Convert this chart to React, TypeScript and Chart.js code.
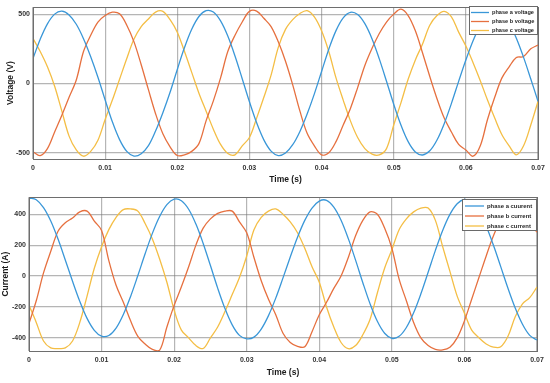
import React, { useEffect, useRef } from "react";
import { Chart, registerables } from "chart.js";

Chart.register(...registerables);

// ---------- data ----------
const TIME = [
  0, 0.001, 0.002, 0.003, 0.004, 0.005, 0.006, 0.007, 0.008, 0.009,
  0.01, 0.011, 0.012, 0.013, 0.014, 0.015, 0.016, 0.017, 0.018, 0.019,
  0.02, 0.021, 0.022, 0.023, 0.024, 0.025, 0.026, 0.027, 0.028, 0.029,
  0.03, 0.031, 0.032, 0.033, 0.034, 0.035, 0.036, 0.037, 0.038, 0.039,
  0.04, 0.041, 0.042, 0.043, 0.044, 0.045, 0.046, 0.047, 0.048, 0.049,
  0.05, 0.051, 0.052, 0.053, 0.054, 0.055, 0.056, 0.057, 0.058, 0.059,
  0.06, 0.061, 0.062, 0.063, 0.064, 0.065, 0.066, 0.067, 0.068, 0.069,
  0.07,
];

const X_TICKS = [0, 0.01, 0.02, 0.03, 0.04, 0.05, 0.06, 0.07];
const X_TICK_LABELS = ["0", "0.01", "0.02", "0.03", "0.04", "0.05", "0.06", "0.07"];
const V_TICKS = [-500, 0, 500];
const I_TICKS = [-400, -200, 0, 200, 400];

const VOLT_A = [
  180, 319, 430, 500, 521, 494, 427, 323, 193, 45,
  -119, -277, -405, -490, -524, -507, -449, -342, -211, -64,
  101, 259, 391, 483, 525, 515, 451, 342, 198, 34,
  -132, -284, -407, -488, -520, -502, -442, -346, -220, -75,
  86, 247, 381, 473, 513, 497, 431, 321, 177, 16,
  -150, -300, -420, -494, -516, -486, -408, -290, -144, 15,
  169, 308, 419, 492, 520, 500, 434, 326, 188, 32,
  -129,
];
const VOLT_B = [
  -493, -520, -470, -350, -230, -100, 25, 230, 348, 443,
  490, 514, 502, 420, 300, 135, -45, -220, -363, -457,
  -520, -515, -490, -434, -268, -126, 40, 230, 348, 443,
  520, 522, 470, 410, 300, 160, -10, -200, -360, -450,
  -515, -500, -420, -300, -180, -30, 130, 254, 360, 443,
  500, 536, 490, 380, 220, 50, -110, -250, -350, -440,
  -480, -525, -450, -260, -100, 40, 120, 187, 194, 250,
  277,
];
const VOLT_C = [
  325, 230, 120, -20, -200, -380, -480, -525, -490, -410,
  -260, -120, 30, 180, 320, 410, 465, 515, 520, 460,
  370, 230, 80, -70, -200, -330, -440, -505, -515, -450,
  -390, -250, -100, 60, 260, 390, 460, 505, 525, 480,
  380, 230, 40, -120, -270, -390, -470, -510, -515, -470,
  -300, -140, 30, 170, 285, 420, 490, 520, 480, 370,
  270, 150, 20, -120, -250, -370, -450, -515, -450, -300,
  -130,
];

const CURR_A = [
  505, 494, 443, 356, 239, 104, -34, -164, -274, -351,
  -389, -385, -337, -249, -132, 3, 144, 276, 385, 462,
  497, 487, 432, 336, 211, 68, -78, -210, -316, -384,
  -406, -395, -343, -256, -143, -12, 123, 251, 360, 440,
  485, 490, 446, 361, 242, 103, -43, -180, -293, -370,
  -403, -390, -333, -238, -115, 24, 166, 295, 399, 468,
  495, 477, 418, 322, 199, 61, -79, -207, -312, -384,
  -414,
];
const CURR_B = [
  -307, -160, 20, 160, 290, 345, 375, 415, 420, 355,
  295, 100, -60, -170, -290, -390, -440, -475, -480, -330,
  -190, -70, 60, 200, 310, 370, 405, 420, 420, 350,
  280, 120, -30, -150, -250, -370, -430, -455, -458, -360,
  -250, -170, -80, 0, 120, 260, 360, 415, 400, 310,
  180, -20, -160, -300, -400, -450, -475, -478, -460, -400,
  -290, -150, -10, 130, 260, 360, 410, 420, 400, 340,
  284,
];
const CURR_C = [
  -189, -300, -420, -465, -469, -465, -420, -300, -130, 50,
  190, 300, 380, 430, 434, 420, 340, 240, 110, -40,
  -220, -350, -400, -450, -469, -400, -330, -230, -120, -10,
  130, 300, 380, 420, 434, 400, 350, 280, 180, 60,
  -40, -200, -330, -430, -470, -450, -380, -280, -110, 50,
  170, 300, 370, 415, 440, 440, 360, 190, 30, -130,
  -240, -350, -400, -440, -460, -458, -390, -264, -180, -140,
  -71,
];

const VOLT_LABELS = ["phase a voltage", "phase b voltage", "phase c voltage"];
const CURR_LABELS = ["phase a cuurent", "phase b current", "phase c current"];
const COLORS = ["#3a97d8", "#e6703f", "#f4be45"];

// ---------- plugins ----------
const FONT = '"Liberation Sans", Arial, Helvetica, sans-serif';

const frameBox = {
  id: "frameBox",
  afterDatasetsDraw(chart: any) {
    const { left, top, right, bottom } = chart.chartArea;
    const ctx = chart.ctx;
    ctx.save();
    ctx.strokeStyle = "#6e6e6e";
    ctx.lineWidth = 1;
    ctx.strokeRect(Math.round(left) + 0.5, Math.round(top) + 0.5, Math.round(right - left), Math.round(bottom - top));
    ctx.restore();
  },
};

const boxLegend = {
  id: "boxLegend",
  afterDraw(chart: any, _args: any, o: any) {
    if (!o || !o.w) return;
    const ctx = chart.ctx;
    ctx.save();
    ctx.fillStyle = "#ffffff";
    ctx.fillRect(o.x, o.y, o.w, o.h);
    ctx.strokeStyle = "#6a6a6a";
    ctx.lineWidth = 1;
    ctx.strokeRect(o.x + 0.5, o.y + 0.5, o.w, o.h);
    chart.data.datasets.forEach((ds: any, i: number) => {
      const cy = o.y + o.firstRow + i * o.rowH;
      ctx.strokeStyle = ds.borderColor;
      ctx.lineWidth = 1.3;
      ctx.beginPath();
      ctx.moveTo(o.x + o.lineStart, cy);
      ctx.lineTo(o.x + o.lineStart + o.lineLen, cy);
      ctx.stroke();
      ctx.fillStyle = "#262626";
      ctx.font = `bold ${o.fontSize}px ${FONT}`;
      ctx.textBaseline = "middle";
      ctx.textAlign = "left";
      ctx.fillText(ds.label, o.x + o.textX, cy);
    });
    ctx.restore();
  },
};

type PanelProps = {
  width: number;
  height: number;
  series: number[][];
  labels: string[];
  yTicks: number[];
  yMin: number;
  yMax: number;
  yTitle: string;
  yTitleSize: number;
  yTitlePad: number;
  yAxisWidth: number;
  xAxisHeight: number;
  xTitlePad: number;
  padTop: number;
  padRight: number;
  legend: any;
};

function Panel(p: PanelProps) {
  const ref = useRef<HTMLCanvasElement | null>(null);
  useEffect(() => {
    if (!ref.current) return;
    const gridColor = "rgba(120,120,120,0.55)";
    const tickFont = { family: FONT, size: 7, weight: "bold" as const };
    const chart = new Chart(ref.current, {
      type: "line",
      data: {
        datasets: p.series.map((s, i) => ({
          label: p.labels[i],
          data: TIME.map((t, k) => ({ x: t, y: s[k] })),
          borderColor: COLORS[i],
          backgroundColor: COLORS[i],
          borderWidth: 1.3,
          pointRadius: 0,
          tension: 0.35,
          fill: false,
        })),
      },
      options: {
        responsive: false,
        animation: false,
        devicePixelRatio: 1,
        events: [],
        layout: { padding: { top: p.padTop, right: p.padRight, left: 0, bottom: 0 } },
        plugins: {
          legend: { display: false },
          tooltip: { enabled: false },
          boxLegend: p.legend,
        } as any,
        scales: {
          x: {
            type: "linear",
            min: 0,
            max: 0.07,
            afterBuildTicks: (s: any) => {
              s.ticks = X_TICKS.map((v) => ({ value: v }));
            },
            afterFit: (s: any) => {
              s.height = p.xAxisHeight;
            },
            ticks: {
              callback: (_v: any, i: number) => X_TICK_LABELS[i],
              font: tickFont,
              color: "#333333",
              padding: 5,
              maxRotation: 0,
              autoSkip: false,
            },
            grid: { color: gridColor, lineWidth: 1.2, drawTicks: false },
            border: { display: false },
            title: {
              display: true,
              text: "Time (s)",
              font: { family: FONT, size: 8.5, weight: "bold" },
              color: "#1a1a1a",
              padding: { top: 0, bottom: p.xTitlePad },
            },
          },
          y: {
            type: "linear",
            min: p.yMin,
            max: p.yMax,
            afterBuildTicks: (s: any) => {
              s.ticks = p.yTicks.map((v) => ({ value: v }));
            },
            afterFit: (s: any) => {
              s.width = p.yAxisWidth;
            },
            ticks: {
              callback: (v: any) => String(v),
              font: tickFont,
              color: "#333333",
              padding: 3,
              autoSkip: false,
            },
            grid: { color: gridColor, lineWidth: 1.2, drawTicks: false },
            border: { display: false },
            title: {
              display: true,
              text: p.yTitle,
              font: { family: FONT, size: p.yTitleSize, weight: "bold" },
              color: "#1a1a1a",
              padding: { top: p.yTitlePad, bottom: 0 },
            },
          },
        },
      } as any,
      plugins: [frameBox, boxLegend],
    });
    return () => chart.destroy();
  }, []);
  return (
    <canvas
      ref={ref}
      width={p.width}
      height={p.height}
      style={{ display: "block", width: p.width, height: p.height }}
    />
  );
}

export default function App() {
  return (
    <div style={{ position: "absolute", left: 0, top: 0, width: 550, height: 383, background: "#ffffff" }}>
      <Panel
        width={550}
        height={190}
        series={[VOLT_A, VOLT_B, VOLT_C]}
        labels={VOLT_LABELS}
        yTicks={V_TICKS}
        yMin={-545}
        yMax={550}
        yTitle="Voltage (V)"
        yTitleSize={8.5}
        yTitlePad={6}
        yAxisWidth={33}
        xAxisHeight={31}
        xTitlePad={5.5}
        padTop={5}
        padRight={12}
        legend={{ x: 469, y: 6, w: 68, h: 28, firstRow: 6.5, rowH: 9, lineStart: 2, lineLen: 18, textX: 23, fontSize: 5.6 }}
      />
      <Panel
        width={550}
        height={193}
        series={[CURR_A, CURR_B, CURR_C]}
        labels={CURR_LABELS}
        yTicks={I_TICKS}
        yMin={-485}
        yMax={510}
        yTitle="Current (A)"
        yTitleSize={8.5}
        yTitlePad={1}
        yAxisWidth={29}
        xAxisHeight={32}
        xTitlePad={5}
        padTop={7}
        padRight={13}
        legend={{ x: 462, y: 9, w: 74, h: 31, firstRow: 7, rowH: 10, lineStart: 3, lineLen: 19, textX: 25, fontSize: 5.9 }}
      />
    </div>
  );
}
